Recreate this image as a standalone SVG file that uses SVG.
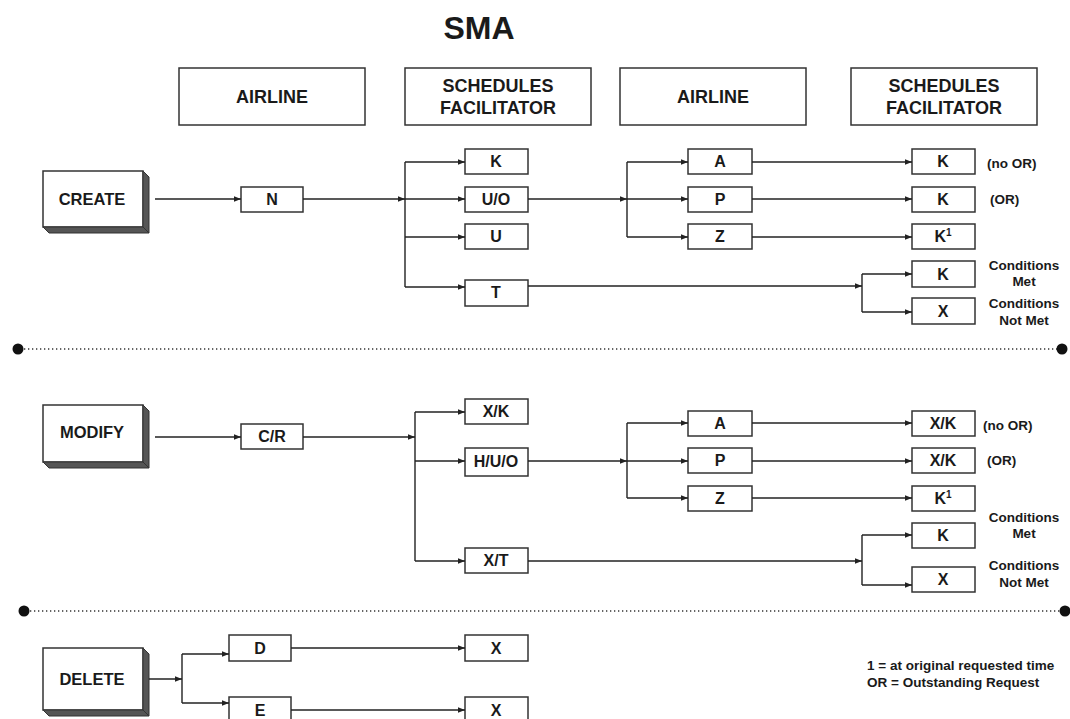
<svg xmlns="http://www.w3.org/2000/svg" width="1070" height="719" viewBox="0 0 1070 719">
<style>
text{font-family:"Liberation Sans",Arial,sans-serif;font-weight:bold;fill:#1a1a1a;text-anchor:middle}
.hdr rect{fill:#fff;stroke:#333;stroke-width:1.5}
.hdr text{font-size:18px}
.box rect{fill:#fff;stroke:#333;stroke-width:1.5}
.box text{font-size:16px}
.big rect{fill:#fff;stroke:#333;stroke-width:1.5}
.big polygon{fill:#555;stroke:#333;stroke-width:1}
.big text{font-size:16.5px}
.lbl{font-size:13.5px}
.lbls{font-size:13.5px;text-anchor:start}
#connectors line,#connectors polyline{stroke:#222;stroke-width:1.4;fill:none}
.div{stroke:#333;stroke-width:1.3;stroke-dasharray:1.3 2.7}
</style>
<defs>
<marker id="ah" viewBox="0 0 10 8" refX="10" refY="4" markerWidth="7" markerHeight="6" markerUnits="userSpaceOnUse" orient="auto"><path d="M0,0 L10,4 L0,8 z" fill="#222"/></marker>
</defs>

<text x="479" y="39" style="font-size:32px">SMA</text>

<g id="h1" class="hdr"><rect x="179" y="68" width="186" height="57"/><text x="272" y="103">AIRLINE</text></g>
<g id="h2" class="hdr"><rect x="405" y="68" width="186" height="57"/><text x="498" y="92">SCHEDULES</text><text x="498" y="114">FACILITATOR</text></g>
<g id="h3" class="hdr"><rect x="620" y="68" width="186" height="57"/><text x="713" y="103">AIRLINE</text></g>
<g id="h4" class="hdr"><rect x="851" y="68" width="186" height="57"/><text x="944" y="92">SCHEDULES</text><text x="944" y="114">FACILITATOR</text></g>

<!-- CREATE section -->
<g id="create" class="big"><rect x="43" y="171" width="100" height="56"/><polygon points="143,171 149,177 149,233 143,227"/><polygon points="43,227 143,227 149,233 49,233"/><text x="92" y="205">CREATE</text></g>
<g id="c_n" class="box"><rect x="241" y="187" width="62" height="25"/><text x="272" y="205">N</text></g>
<g id="c_k" class="box"><rect x="465" y="149" width="63" height="25"/><text x="496" y="167">K</text></g>
<g id="c_uo" class="box"><rect x="465" y="187" width="63" height="25"/><text x="496" y="205">U/O</text></g>
<g id="c_u" class="box"><rect x="465" y="224" width="63" height="25"/><text x="496" y="242">U</text></g>
<g id="c_t" class="box"><rect x="465" y="280" width="63" height="26"/><text x="496" y="298">T</text></g>
<g id="c_a" class="box"><rect x="688" y="149" width="64" height="25"/><text x="720" y="167">A</text></g>
<g id="c_p" class="box"><rect x="688" y="187" width="64" height="25"/><text x="720" y="205">P</text></g>
<g id="c_z" class="box"><rect x="688" y="224" width="64" height="25"/><text x="720" y="242">Z</text></g>
<g id="c_k2" class="box"><rect x="912" y="149" width="63" height="25"/><text x="943" y="167">K</text></g>
<g id="c_k3" class="box"><rect x="912" y="187" width="63" height="25"/><text x="943" y="205">K</text></g>
<g id="c_k4" class="box"><rect x="912" y="224" width="63" height="25"/><text x="943" y="242">K<tspan font-size="10" dy="-6">1</tspan></text></g>
<g id="c_k5" class="box"><rect x="912" y="261" width="63" height="26"/><text x="943" y="280">K</text></g>
<g id="c_x" class="box"><rect x="912" y="298" width="63" height="26"/><text x="943" y="317">X</text></g>
<text class="lbls" x="987" y="168">(no OR)</text>
<text class="lbls" x="990" y="204">(OR)</text>
<text class="lbl" x="1024" y="270">Conditions</text>
<text class="lbl" x="1024" y="286">Met</text>
<text class="lbl" x="1024" y="308">Conditions</text>
<text class="lbl" x="1024" y="325">Not Met</text>

<!-- MODIFY section -->
<g id="modify" class="big"><rect x="43" y="405" width="100" height="57"/><polygon points="143,405 149,411 149,468 143,462"/><polygon points="43,462 143,462 149,468 49,468"/><text x="92" y="438">MODIFY</text></g>
<g id="m_cr" class="box"><rect x="241" y="424" width="62" height="25"/><text x="272" y="442">C/R</text></g>
<g id="m_xk" class="box"><rect x="465" y="399" width="63" height="25"/><text x="496" y="417">X/K</text></g>
<g id="m_huo" class="box"><rect x="465" y="448" width="63" height="28"/><text x="496" y="467">H/U/O</text></g>
<g id="m_xt" class="box"><rect x="465" y="548" width="63" height="25"/><text x="496" y="566">X/T</text></g>
<g id="m_a" class="box"><rect x="688" y="411" width="64" height="25"/><text x="720" y="429">A</text></g>
<g id="m_p" class="box"><rect x="688" y="448" width="64" height="25"/><text x="720" y="466">P</text></g>
<g id="m_z" class="box"><rect x="688" y="486" width="64" height="25"/><text x="720" y="504">Z</text></g>
<g id="m_xk2" class="box"><rect x="912" y="411" width="63" height="25"/><text x="943" y="429">X/K</text></g>
<g id="m_xk3" class="box"><rect x="912" y="448" width="63" height="25"/><text x="943" y="466">X/K</text></g>
<g id="m_k1" class="box"><rect x="912" y="486" width="63" height="25"/><text x="943" y="504">K<tspan font-size="10" dy="-6">1</tspan></text></g>
<g id="m_k" class="box"><rect x="912" y="523" width="63" height="25"/><text x="943" y="541">K</text></g>
<g id="m_x" class="box"><rect x="912" y="567" width="63" height="25"/><text x="943" y="585">X</text></g>
<text class="lbls" x="983" y="430">(no OR)</text>
<text class="lbls" x="987" y="465">(OR)</text>
<text class="lbl" x="1024" y="522">Conditions</text>
<text class="lbl" x="1024" y="538">Met</text>
<text class="lbl" x="1024" y="570">Conditions</text>
<text class="lbl" x="1024" y="587">Not Met</text>

<!-- DELETE section -->
<g id="delete" class="big"><rect x="43" y="648" width="100" height="62"/><polygon points="143,648 149,654 149,716 143,710"/><polygon points="43,710 143,710 149,716 49,716"/><text x="92" y="685">DELETE</text></g>
<g id="d_d" class="box"><rect x="229" y="635" width="62" height="26"/><text x="260" y="654">D</text></g>
<g id="d_e" class="box"><rect x="229" y="697" width="62" height="26"/><text x="260" y="716">E</text></g>
<g id="d_x1" class="box"><rect x="465" y="635" width="63" height="26"/><text x="496" y="654">X</text></g>
<g id="d_x2" class="box"><rect x="465" y="697" width="63" height="26"/><text x="496" y="716">X</text></g>

<text x="867" y="670" style="font-size:13.5px;text-anchor:start">1 = at original requested time</text>
<text x="867" y="687" style="font-size:13.5px;text-anchor:start">OR = Outstanding Request</text>

<!-- dividers -->
<g id="dividers">
<line class="div" x1="24" y1="349" x2="1057" y2="349"/>
<circle cx="18" cy="349" r="5.5" fill="#111"/>
<circle cx="1062" cy="349" r="5.5" fill="#111"/>
<line class="div" x1="30" y1="611" x2="1060" y2="611"/>
<circle cx="24" cy="611" r="5.5" fill="#111"/>
<circle cx="1065" cy="611" r="5.5" fill="#111"/>
</g>

<g id="connectors">
<line x1="155" y1="199" x2="241" y2="199" marker-end="url(#ah)"/>
<line x1="303" y1="199" x2="405" y2="199" marker-end="url(#ah)"/>
<line x1="405" y1="162" x2="405" y2="287"/>
<line x1="405" y1="162" x2="465" y2="162" marker-end="url(#ah)"/>
<line x1="405" y1="199" x2="465" y2="199" marker-end="url(#ah)"/>
<line x1="405" y1="237" x2="465" y2="237" marker-end="url(#ah)"/>
<line x1="405" y1="287" x2="465" y2="287" marker-end="url(#ah)"/>
<line x1="528" y1="199" x2="627" y2="199" marker-end="url(#ah)"/>
<line x1="627" y1="162" x2="627" y2="237"/>
<line x1="627" y1="162" x2="688" y2="162" marker-end="url(#ah)"/>
<line x1="627" y1="199" x2="688" y2="199" marker-end="url(#ah)"/>
<line x1="627" y1="237" x2="688" y2="237" marker-end="url(#ah)"/>
<line x1="752" y1="162" x2="912" y2="162" marker-end="url(#ah)"/>
<line x1="752" y1="199" x2="912" y2="199" marker-end="url(#ah)"/>
<line x1="752" y1="237" x2="912" y2="237" marker-end="url(#ah)"/>
<line x1="528" y1="286" x2="862" y2="286" marker-end="url(#ah)"/>
<line x1="862" y1="274" x2="862" y2="312"/>
<line x1="862" y1="274" x2="912" y2="274" marker-end="url(#ah)"/>
<line x1="862" y1="312" x2="912" y2="312" marker-end="url(#ah)"/>

<line x1="155" y1="437" x2="241" y2="437" marker-end="url(#ah)"/>
<line x1="303" y1="437" x2="415" y2="437" marker-end="url(#ah)"/>
<line x1="415" y1="412" x2="415" y2="561"/>
<line x1="415" y1="412" x2="465" y2="412" marker-end="url(#ah)"/>
<line x1="415" y1="461" x2="465" y2="461" marker-end="url(#ah)"/>
<line x1="415" y1="561" x2="465" y2="561" marker-end="url(#ah)"/>
<line x1="528" y1="461" x2="627" y2="461" marker-end="url(#ah)"/>
<line x1="627" y1="423" x2="627" y2="498"/>
<line x1="627" y1="423" x2="688" y2="423" marker-end="url(#ah)"/>
<line x1="627" y1="461" x2="688" y2="461" marker-end="url(#ah)"/>
<line x1="627" y1="498" x2="688" y2="498" marker-end="url(#ah)"/>
<line x1="752" y1="423" x2="912" y2="423" marker-end="url(#ah)"/>
<line x1="752" y1="461" x2="912" y2="461" marker-end="url(#ah)"/>
<line x1="752" y1="498" x2="912" y2="498" marker-end="url(#ah)"/>
<line x1="528" y1="561" x2="862" y2="561" marker-end="url(#ah)"/>
<line x1="862" y1="535" x2="862" y2="585"/>
<line x1="862" y1="535" x2="912" y2="535" marker-end="url(#ah)"/>
<line x1="862" y1="585" x2="912" y2="585" marker-end="url(#ah)"/>

<line x1="149" y1="679" x2="182" y2="679" marker-end="url(#ah)"/>
<line x1="182" y1="654" x2="182" y2="703"/>
<line x1="182" y1="654" x2="229" y2="654" marker-end="url(#ah)"/>
<line x1="182" y1="703" x2="229" y2="703" marker-end="url(#ah)"/>
<line x1="291" y1="648" x2="465" y2="648" marker-end="url(#ah)"/>
<line x1="291" y1="710" x2="465" y2="710" marker-end="url(#ah)"/>
</g>
</svg>
